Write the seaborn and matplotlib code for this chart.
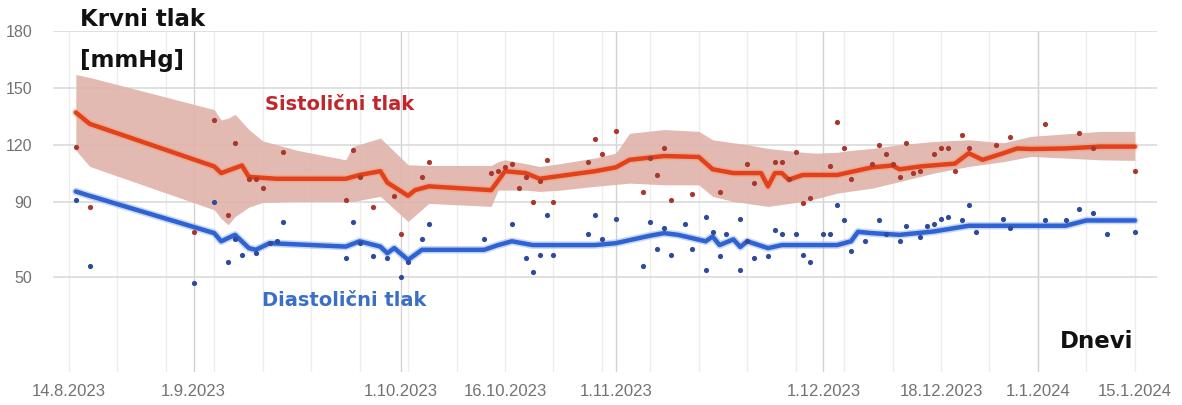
import matplotlib
matplotlib.use("Agg")
import matplotlib.pyplot as plt
import seaborn as sns
import pandas as pd

# ---------------- data (days are counted from 14.8.2023) ----------------
START_DATE = "2023-08-14"

sys_days = [1, 3, 18, 21, 23, 24, 26, 27, 28, 31, 40, 41, 42, 44, 47, 48, 51, 52,
            61, 62, 63, 64, 65, 66, 67, 68, 69, 70, 75, 76, 77, 79, 83, 84, 85, 86,
            87, 90, 94, 98, 99, 102, 103, 104, 105, 106, 107, 110, 111, 112, 113,
            116, 117, 118, 119, 120, 121, 122, 123, 125, 126, 127, 128, 129, 130,
            134, 136, 141, 146, 148, 154]
sys_vals = [119, 87, 74, 133, 83, 121, 102, 102, 97, 116, 91, 117, 103, 87, 93, 73,
            103, 111, 105, 106, 108, 110, 97, 103, 90, 101, 112, 90, 111, 123, 115,
            127, 95, 113, 104, 118, 91, 94, 95, 110, 100, 111, 111, 102, 116, 89,
            92, 109, 132, 118, 102, 110, 120, 115, 110, 103, 121, 105, 106, 115,
            118, 118, 106, 125, 118, 120, 124, 131, 126, 118, 106]

dia_days = [1, 3, 18, 21, 23, 24, 25, 27, 29, 30, 31, 40, 41, 42, 44, 46, 48, 49,
            51, 52, 60, 64, 66, 67, 68, 69, 70, 75, 76, 77, 79, 83, 84, 85, 86, 87,
            89, 90, 92, 92, 93, 94, 95, 97, 97, 98, 99, 101, 102, 103, 105, 106,
            107, 109, 110, 111, 112, 113, 115, 117, 118, 120, 121, 123, 124, 125,
            126, 127, 129, 130, 131, 135, 136, 141, 144, 146, 148, 150, 154]
dia_vals = [91, 56, 47, 90, 58, 70, 62, 63, 68, 69, 79, 60, 79, 68, 61, 60, 50, 58,
            70, 78, 70, 78, 60, 53, 62, 83, 62, 73, 83, 70, 81, 56, 79, 65, 76, 62,
            78, 65, 82, 54, 74, 61, 73, 81, 54, 69, 60, 61, 75, 73, 73, 62, 58, 73,
            73, 88, 80, 64, 69, 80, 73, 69, 77, 71, 77, 78, 81, 82, 80, 88, 74, 81,
            76, 80, 80, 86, 84, 73, 74]

# smoothed trend of systolic pressure
sys_trend_days = [1, 3, 21, 22, 25, 26, 30, 40, 42, 45, 46, 49, 50, 52, 61, 63, 66,
                  68, 76, 79, 81, 86, 91, 93, 96, 100, 101, 102, 103, 104, 106, 111,
                  116, 119, 120, 123, 128, 130, 132, 135, 137, 139, 144, 149, 154]
sys_trend_vals = [137, 131, 108.5, 105, 109, 103, 102, 102, 104, 106, 100, 93, 96,
                  98, 96, 106, 105, 102, 106, 108, 112, 114, 113.5, 107, 105, 105,
                  98, 105, 105, 101.5, 104, 104, 108, 109, 107, 108.5, 110, 115.5,
                  112, 115.5, 118, 117.7, 118, 119, 119]

# spread band around systolic trend
band_days = [1, 3, 21, 22, 23, 24, 26, 28, 33, 40, 41, 45, 49, 52, 61, 62, 63, 66,
             68, 71, 76, 79, 81, 86, 91, 93, 96, 98, 101, 106, 108, 111, 113, 116,
             120, 125, 130, 135, 139, 149, 154]
band_upper = [157, 155.5, 138.5, 133, 134, 136, 128, 122, 117, 112, 119, 123.5,
              109.4, 109, 109, 111, 112, 110, 108.5, 110, 113, 115.5, 126, 128, 127,
              122.6, 121, 120, 118, 116, 115.5, 116, 117, 118, 120, 121.7, 122.6,
              121, 124.4, 127, 127]
band_lower = [117, 108.5, 85.6, 81, 77.7, 82, 87, 89.5, 90, 90, 90, 92.7, 79.4, 89,
              87.4, 96, 96, 96, 95.3, 96, 98, 99, 99.7, 98.8, 98.8, 92.7, 90, 89,
              87.4, 90, 91.5, 94.4, 95.5, 97, 100.5, 105, 108.5, 111, 113.8, 112,
              111.7]

# smoothed trend of diastolic pressure
dia_trend_days = [1, 3, 21, 22, 24, 26, 27, 29, 40, 42, 45, 46, 47, 49, 51, 60, 62,
                  64, 67, 76, 79, 84, 86, 88, 92, 93, 94, 96, 97, 98, 101, 103, 106,
                  111, 113, 114, 116, 120, 125, 130, 144, 147, 154]
dia_trend_vals = [95.3, 93, 73.3, 69, 72.4, 65.4, 64.5, 68, 66.2, 69, 66.2, 62.7,
                  65.4, 59.2, 64.5, 64.5, 67, 69, 67, 67, 68, 72, 73.3, 72.4, 69,
                  71.5, 67, 70, 66, 69, 65.4, 67, 67, 67, 69, 74, 73.3, 72.4, 74.2,
                  77.2, 77.2, 80, 80]

y_ticks = [50, 90, 120, 150, 180]
x_tick_dates = ["2023-08-14", "2023-09-01", "2023-10-01", "2023-10-16", "2023-11-01",
                "2023-12-01", "2023-12-18", "2024-01-01", "2024-01-15"]
x_tick_labels = ["14.8.2023", "1.9.2023", "1.10.2023", "16.10.2023", "1.11.2023",
                 "1.12.2023", "18.12.2023", "1.1.2024", "15.1.2024"]

title_lines = ["Krvni tlak", "[mmHg]"]
x_title = "Dnevi"
sys_label = "Sistolični tlak"
dia_label = "Diastolični tlak"

# ---------------- helpers ----------------
start = pd.Timestamp(START_DATE)
def to_dates(days):
    return start + pd.to_timedelta(days, unit="D")

sys_df = pd.DataFrame({"date": to_dates(sys_days), "val": sys_vals})
dia_df = pd.DataFrame({"date": to_dates(dia_days), "val": dia_vals})
sys_tr = pd.DataFrame({"date": to_dates(sys_trend_days), "val": sys_trend_vals})
dia_tr = pd.DataFrame({"date": to_dates(dia_trend_days), "val": dia_trend_vals})
band = pd.DataFrame({"date": to_dates(band_days), "lo": band_lower, "hi": band_upper})

# ---------------- style ----------------
sns.set_style("white")
plt.rcParams["font.family"] = ["Liberation Sans", "DejaVu Sans"]

W, H = 1182, 405
fig = plt.figure(figsize=(W / 100, H / 100), dpi=100)
ax = fig.add_axes([53 / W, 1 - 372 / H, (1157 - 53) / W, (372 - 31) / H])

# grid: weekly light, month starts darker
x_min = start - pd.Timedelta(days=2.3)
x_max = start + pd.Timedelta(days=157.2)
for wk in pd.date_range(start, x_max, freq="7D"):
    ax.axvline(wk, color="#ededed", lw=1.0, zorder=0)
for ms in pd.date_range(start, x_max, freq="MS"):
    ax.axvline(ms, color="#d2d2d2", lw=1.0, zorder=0)
for yv in y_ticks:
    ax.axhline(yv, color="#dadada", lw=1.2, zorder=0)

# band
ax.fill_between(band["date"], band["lo"], band["hi"], color="#e0b3a9",
                alpha=0.9, lw=0, zorder=1)

# trend lines
sns.lineplot(data=sys_tr, x="date", y="val", ax=ax, color="#f39a72", lw=5.5,
             alpha=0.45, zorder=2)
sns.lineplot(data=sys_tr, x="date", y="val", ax=ax, color="#e2411b", lw=3.2,
             zorder=3)
sns.lineplot(data=dia_tr, x="date", y="val", ax=ax, color="#86a8ec", lw=5.5,
             alpha=0.45, zorder=2)
sns.lineplot(data=dia_tr, x="date", y="val", ax=ax, color="#2f63d2", lw=3.2,
             zorder=3)

# points
sns.scatterplot(data=sys_df, x="date", y="val", ax=ax, color="#a8372e", s=14,
                linewidth=0, zorder=4)
sns.scatterplot(data=dia_df, x="date", y="val", ax=ax, color="#2d4a9e", s=14,
                linewidth=0, zorder=4)

ax.set_xlim(x_min, x_max)
ax.set_ylim(0, 180)
ax.set_yticks(y_ticks)
ax.set_xticks(pd.to_datetime(x_tick_dates))
ax.set_xticklabels(x_tick_labels)
ax.tick_params(axis="both", length=0, labelsize=11.5, colors="#727272")
ax.tick_params(axis="x", pad=9, labelsize=12)
ax.tick_params(axis="y", pad=15)
ax.set_xlabel("")
ax.set_ylabel("")
for s in ax.spines.values():
    s.set_visible(False)

# texts
bold = dict(fontweight="bold", family=["DejaVu Sans"])
fig.text(80 / W, 1 - 20 / H, title_lines[0], fontsize=16.5, color="#111111",
         va="center", ha="left", **bold)
fig.text(80 / W, 1 - 60 / H, title_lines[1], fontsize=16.5, color="#111111",
         va="center", ha="left", **bold)
fig.text(1060 / W, 1 - 342 / H, x_title, fontsize=16.5, color="#111111",
         va="center", ha="left", **bold)
fig.text(265 / W, 1 - 104 / H, sys_label, fontsize=14, color="#c0272d",
         va="center", ha="left", **bold)
fig.text(262 / W, 1 - 300 / H, dia_label, fontsize=14, color="#3a6fc8",
         va="center", ha="left", **bold)

fig.savefig("out.png", dpi=100)
